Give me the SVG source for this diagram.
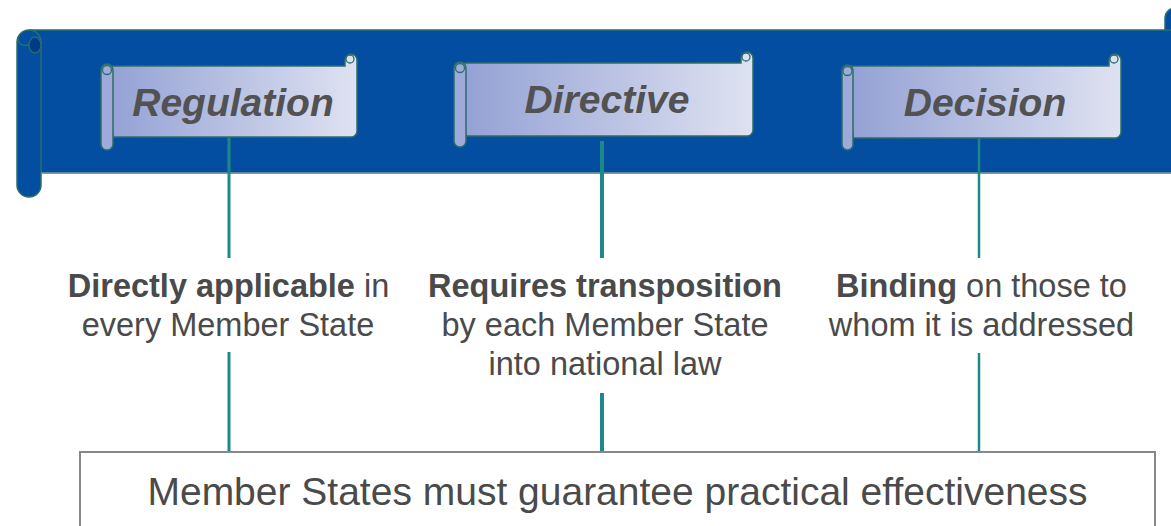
<svg xmlns="http://www.w3.org/2000/svg" width="1171" height="526" viewBox="0 0 1171 526">
<defs>
<linearGradient id="sg" x1="0" y1="0" x2="1" y2="0">
<stop offset="0" stop-color="#93A0D4"/>
<stop offset="1" stop-color="#DEE2F1"/>
</linearGradient>
<style>
.ban{fill:#044EA2;stroke:#2A6E6E;stroke-width:1.5}
.body{fill:url(#sg);stroke:#2E6E6A;stroke-width:1.5}
.roll{fill:#A0AADA;stroke:#2E6E6A;stroke-width:1.5}
.curl{fill:none;stroke:#2E6E6A;stroke-width:1.3}
.ttl{font-family:"Liberation Sans",Arial,sans-serif;font-weight:bold;font-style:italic;font-size:39px;fill:#525252;text-anchor:middle}
.lbl{font-family:"Liberation Sans",Arial,sans-serif;font-size:32.5px;fill:#4A4A4A;text-anchor:middle}
.b{font-weight:bold}
.main{font-family:"Liberation Sans",Arial,sans-serif;font-size:39px;fill:#4A4A4A;text-anchor:middle}
.con{stroke:#1E8888;fill:none}
</style>
</defs>
<rect width="1171" height="526" fill="#FFFFFF"/>
<g id="banner">
<rect class="ban" x="1165" y="8" width="24" height="40" rx="10"/>
<rect class="ban" x="30" y="30" width="1160" height="143"/>
<rect class="ban" x="17" y="30" width="24" height="167" rx="12"/>
<path d="M41,173 H1171" stroke="#9AA8B8" stroke-width="1"/>
<ellipse cx="35" cy="45" rx="6" ry="8" fill="#003B86" stroke="#2A6E6E" stroke-width="1.3"/>
<path d="M29,45 q-10,2 -11,-6" class="curl"/>
</g>
<g id="connectors">
<line class="con" x1="229" y1="137" x2="229" y2="258" stroke-width="3"/>
<line class="con" x1="229" y1="352" x2="229" y2="452" stroke-width="3"/>
<line class="con" x1="602" y1="141" x2="602" y2="258" stroke-width="4"/>
<line class="con" x1="602" y1="393" x2="602" y2="452" stroke-width="4"/>
<line class="con" x1="979" y1="138" x2="979" y2="258" stroke-width="2.5"/>
<line class="con" x1="979" y1="353" x2="979" y2="452" stroke-width="2.5"/>
</g>
<g id="regulation">
<path class="body" d="M107,66 H345 V60 a6,6 0 0 1 12,0 V131 a6,6 0 0 1 -6,6 H113 Z"/>
<circle class="curl" cx="350" cy="59" r="4"/>
<rect class="roll" x="101" y="64" width="12" height="86" rx="6"/>
<circle class="curl" cx="107" cy="70" r="4.5"/>
<text class="ttl" x="233" y="116">Regulation</text>
</g>
<g id="directive">
<path class="body" d="M459,63 H741 V58 a6,6 0 0 1 12,0 V130 a6,6 0 0 1 -6,6 H466 Z"/>
<circle class="curl" cx="746" cy="57" r="4"/>
<rect class="roll" x="454" y="62" width="12" height="85" rx="6"/>
<circle class="curl" cx="460" cy="68" r="4.5"/>
<text class="ttl" x="607" y="113">Directive</text>
</g>
<g id="decision">
<path class="body" d="M848,66 H1109 V60 a6,6 0 0 1 12,0 V132 a6,6 0 0 1 -6,6 H853 Z"/>
<circle class="curl" cx="1114" cy="59" r="4"/>
<rect class="roll" x="842" y="65" width="11" height="85" rx="5.5"/>
<circle class="curl" cx="847.5" cy="71" r="4.5"/>
<text class="ttl" x="985" y="116">Decision</text>
</g>
<g id="label-regulation">
<text class="lbl" x="228.5" y="297"><tspan class="b">Directly applicable</tspan> in</text>
<text class="lbl" x="228" y="336">every Member State</text>
</g>
<g id="label-directive">
<text class="lbl" x="605" y="297"><tspan class="b">Requires transposition</tspan></text>
<text class="lbl" x="605" y="336">by each Member State</text>
<text class="lbl" x="605" y="375">into national law</text>
</g>
<g id="label-decision">
<text class="lbl" x="981.5" y="297"><tspan class="b">Binding</tspan> on those to</text>
<text class="lbl" x="981.5" y="336">whom it is addressed</text>
</g>
<g id="box">
<rect x="80" y="452" width="1075" height="110" fill="#FFFFFF" stroke="#888888" stroke-width="2"/>
<text class="main" x="617.5" y="505">Member States must guarantee practical effectiveness</text>
</g>
</svg>
